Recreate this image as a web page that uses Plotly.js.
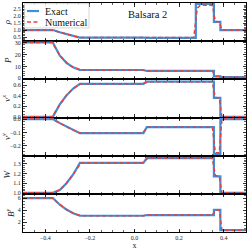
<!DOCTYPE html>
<html><head><meta charset="utf-8">
<script src="https://cdn.plot.ly/plotly-3.0.1.min.js"></script>
<style>html,body{margin:0;padding:0;background:#fff}#chart{width:249px;height:250px}</style>
</head><body><div id="chart"></div>
<script>
// ---- Exact solution ----
const xExact   = [-0.5, -0.366, -0.335, -0.305, -0.275, -0.245, 0.040, 0.055, 0.275, 0.275, 0.356, 0.356, 0.385, 0.385, 0.5];
const rhoExact = [1.0, 1.0, 0.84, 0.70, 0.57, 0.46, 0.46, 0.44, 0.44, 2.88, 2.88, 1.59, 1.59, 1.0, 1.0];
const pExact   = [30, 30, 19, 13, 9.2, 7.0, 7.0, 6.2, 6.2, 6.2, 6.2, 1.7, 1.7, 1.0, 1.0];
const vxExact  = [0, 0, 0.24, 0.41, 0.54, 0.63, 0.63, 0.67, 0.67, 0.67, 0.67, 0.36, 0.36, 0, 0];
const vyExact  = [0, 0, -0.03, -0.057, -0.082, -0.105, -0.105, -0.06, -0.06, -0.06, -0.06, -0.26, -0.26, 0, 0];
const wExact   = [1, 1, 1.03, 1.10, 1.19, 1.31, 1.31, 1.36, 1.36, 1.36, 1.36, 1.17, 1.17, 1, 1];
const byExact  = [6, 6, 4.9, 4.1, 3.5, 3.08, 3.08, 3.2, 3.2, 3.2, 3.2, 4.06, 4.06, 0.7, 0.7];

// ---- Numerical solution ----
const xNum   = [-0.5, -0.370, -0.335, -0.305, -0.275, -0.240, 0.035, 0.060, 0.266, 0.274, 0.282, 0.295, 0.349, 0.356, 0.363, 0.380, 0.386, 0.392, 0.5];
const rhoNum = [1.0, 1.0, 0.85, 0.70, 0.57, 0.46, 0.46, 0.44, 0.46, 1.6, 2.6, 2.78, 2.78, 2.2, 1.62, 1.58, 1.3, 1.0, 1.0];
const pNum   = [30, 30, 19.5, 13, 9.2, 7.0, 7.0, 6.2, 6.2, 6.2, 6.2, 6.2, 6.2, 4.0, 1.8, 1.7, 1.3, 1.0, 1.0];
const vxNum  = [0, 0, 0.23, 0.41, 0.54, 0.63, 0.63, 0.67, 0.67, 0.67, 0.67, 0.67, 0.67, 0.5, 0.37, 0.36, 0.15, 0, 0];
const vyNum  = [0, 0, -0.03, -0.057, -0.082, -0.105, -0.105, -0.06, -0.06, -0.06, -0.06, -0.06, -0.06, -0.16, -0.25, -0.25, -0.12, 0, 0];
const wNum   = [1, 1, 1.03, 1.10, 1.19, 1.31, 1.31, 1.36, 1.36, 1.36, 1.36, 1.36, 1.36, 1.26, 1.18, 1.17, 1.08, 1, 1];
const byNum  = [6, 6, 4.95, 4.1, 3.5, 3.1, 3.08, 3.2, 3.2, 3.2, 3.2, 3.2, 3.2, 3.6, 4.0, 4.0, 2.2, 0.7, 0.7];

const panelLabels = ['<i>ρ</i>', '<i>P</i>', '<i>v</i><sup><i>x</i></sup>', '<i>v</i><sup><i>y</i></sup>', '<i>W</i>', '<i>B</i><sup><i>y</i></sup>'];
const xTicks = [-0.4, -0.2, 0.0, 0.2, 0.4];
const legendNames = ['Exact', 'Numerical'];
const titleText = 'Balsara 2';

const exactSets = [rhoExact, pExact, vxExact, vyExact, wExact, byExact];
const numSets = [rhoNum, pNum, vxNum, vyNum, wNum, byNum];

const yCfg = [
  {range: [0.2, 2.95], dtick: 0.5, minor: 0.1, fmt: '.1f'},
  {range: [-0.8, 31.1], dtick: 10, minor: 2, fmt: 'd'},
  {range: [-0.012, 0.715], dtick: 0.2, minor: 0.05, fmt: '.1f'},
  {range: [-0.272, 0.012], dtick: 0.1, minor: 0.02, fmt: '.1f'},
  {range: [0.99, 1.385], dtick: 0.1, minor: 0.02, fmt: '.1f'},
  {range: [0.4, 6.7], dtick: 2, minor: 0.5, fmt: 'd'}
];

const FONT = 'Liberation Serif, Times New Roman, serif';
const blue = '#3d8fd8';
const red = '#e8413f';

const traces = [];
const layout = {
  width: 249, height: 250,
  margin: {l: 23, r: 3, t: 3, b: 18},
  paper_bgcolor: '#fff', plot_bgcolor: '#fff',
  showlegend: false,
  font: {family: FONT, size: 6, color: '#222'},
  annotations: [], shapes: []
};

for (let i = 0; i < 6; i++) {
  const n = i + 1;
  const xa = 'x' + (n === 1 ? '' : n), ya = 'y' + (n === 1 ? '' : n);
  traces.push({x: xExact, y: exactSets[i], xaxis: xa, yaxis: ya, mode: 'lines', name: legendNames[0],
    line: {color: blue, width: 2.2}, hoverinfo: 'skip'});
  traces.push({x: xNum, y: numSets[i], xaxis: xa, yaxis: ya, mode: 'lines', name: legendNames[1],
    line: {color: red, width: 1.5, dash: '4px,2.5px'}, hoverinfo: 'skip'});
  const top = 1 - i / 6, bot = 1 - (i + 1) / 6;
  const c = yCfg[i];
  layout['yaxis' + (n === 1 ? '' : n)] = {
    domain: [bot, top], anchor: xa, range: c.range, dtick: c.dtick, tick0: 0, tickformat: c.fmt,
    ticks: 'inside', ticklen: 3.5, tickwidth: 0.8, tickcolor: '#000',
    minor: {ticks: 'inside', ticklen: 2, tickwidth: 0.6, dtick: c.minor, tick0: 0, tickcolor: '#000'},
    showline: true, linecolor: '#000', linewidth: 1, mirror: 'ticks', showgrid: false, zeroline: false,
    tickfont: {size: 6, family: FONT, color: '#222'},
    title: {text: panelLabels[i], font: {size: 9, family: FONT, color: '#222'}, standoff: 1}
  };
  const xaxis = {
    domain: [0, 1], anchor: ya, range: [-0.5, 0.5], tickvals: xTicks, ticktext: xTicks.map(v => (v < 0 ? '\u2212' : '') + Math.abs(v).toFixed(1)),
    ticks: 'inside', ticklen: 3.5, tickwidth: 0.8, tickcolor: '#000',
    minor: {ticks: 'inside', ticklen: 2, tickwidth: 0.6, dtick: 0.05, tick0: 0, tickcolor: '#000'},
    showline: true, linecolor: '#000', linewidth: 1, mirror: 'ticks', showgrid: false, zeroline: false,
    showticklabels: n === 6,
    tickfont: {size: 6, family: FONT, color: '#222'}
  };
  if (n === 6) xaxis.title = {text: 'x', font: {size: 8, family: FONT, color: '#222'}, standoff: 2};
  layout['xaxis' + (n === 1 ? '' : n)] = xaxis;
}

// title text
layout.annotations.push({text: titleText, xref: 'paper', yref: 'paper', x: 0.56, y: 0.948, showarrow: false,
  font: {size: 10.5, family: FONT, color: '#111'}, xanchor: 'center', yanchor: 'middle'});
// manual legend
layout.shapes.push({type: 'rect', xref: 'paper', yref: 'paper', x0: 0.007, x1: 0.296, y0: 0.891, y1: 0.997,
  fillcolor: 'rgba(255,255,255,0.9)', line: {color: '#ccc', width: 0.8}, layer: 'above'});
layout.shapes.push({type: 'line', xref: 'paper', yref: 'paper', x0: 0.018, x1: 0.072, y0: 0.965, y1: 0.965,
  line: {color: blue, width: 2.2}, layer: 'above'});
layout.shapes.push({type: 'line', xref: 'paper', yref: 'paper', x0: 0.018, x1: 0.072, y0: 0.917, y1: 0.917,
  line: {color: red, width: 1.5, dash: '4px,2.5px'}, layer: 'above'});
layout.annotations.push({text: legendNames[0], xref: 'paper', yref: 'paper', x: 0.088, y: 0.965, showarrow: false,
  xanchor: 'left', yanchor: 'middle', font: {size: 10, family: FONT, color: '#111'}});
layout.annotations.push({text: legendNames[1], xref: 'paper', yref: 'paper', x: 0.088, y: 0.917, showarrow: false,
  xanchor: 'left', yanchor: 'middle', font: {size: 10, family: FONT, color: '#111'}});

Plotly.newPlot('chart', traces, layout, {staticPlot: true, displayModeBar: false});
</script>
</body></html>
